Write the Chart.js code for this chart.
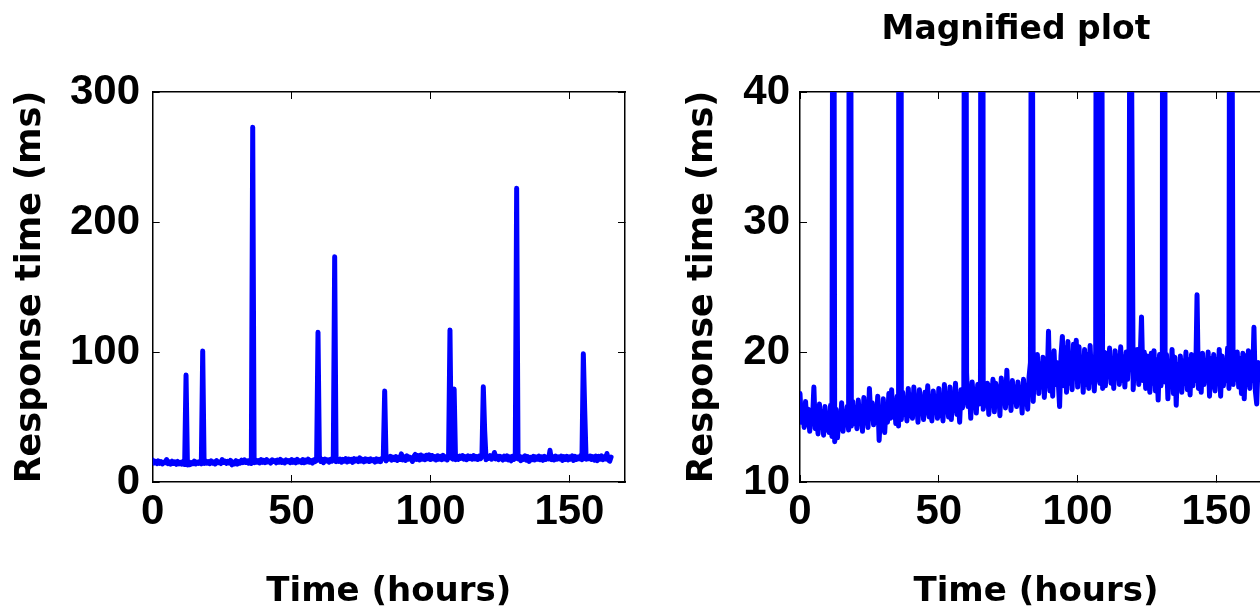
<!DOCTYPE html>
<html>
<head>
<meta charset="utf-8">
<script src="https://cdn.jsdelivr.net/npm/chart.js@4.4.1/dist/chart.umd.min.js"></script>
<style>
  html, body { margin: 0; padding: 0; background: #fff; overflow: hidden; }
  #page { position: relative; width: 1260px; height: 607px; overflow: hidden; }
  #full { position: absolute; left: 0; top: 0; }
  #zoomed { position: absolute; left: 650px; top: 0; }
  #zoomTitle {
    position: absolute; left: 866px; top: 8px; width: 300px;
    text-align: center; font: bold 33px/40px "DejaVu Sans", sans-serif; color: #000;
  }
</style>
</head>
<body>
<div id="page">
  <canvas id="full" width="650" height="607"></canvas>
  <canvas id="zoomed" width="650" height="607"></canvas>
  <div id="zoomTitle">Magnified plot</div>
</div>
<script>
// response time samples, one every half hour
const stepHours = 0.5;
const responseMs = [
  16.8, 14.6, 15.9, 14.2, 16.2, 14.4, 15.6, 13.9, 15.2, 14.8, 17.3, 14.1, 15.5, 13.7, 16.0, 14.3, 15.4, 13.6, 15.8, 14.0,
  15.1, 13.8, 15.9, 13.5, 82.3, 13.1, 15.6, 13.4, 14.9, 14.2, 16.1, 13.9, 15.3, 14.4, 15.8, 14.0, 100.8, 14.3, 16.2, 14.5,
  15.7, 14.1, 16.3, 14.6, 15.4, 13.9, 16.5, 14.8, 15.2, 14.2, 17.2, 15.0, 16.1, 14.4, 15.8, 14.7, 16.6, 13.2, 15.3, 14.0,
  16.4, 13.8, 15.7, 14.6, 16.8, 14.9, 17.1, 15.0, 16.2, 14.5, 16.6, 14.3, 272.8, 14.8, 16.9, 15.2, 16.4, 14.7, 17.2, 15.1,
  16.7, 14.9, 17.3, 15.4, 16.1, 14.6, 17.1, 15.8, 16.4, 14.8, 16.9, 15.3, 17.4, 15.0, 16.2, 14.7, 17.0, 15.6, 16.5, 14.9,
  17.2, 15.1, 16.6, 14.7, 17.5, 15.4, 16.3, 15.0, 17.3, 14.8, 16.8, 15.5, 17.6, 15.2, 16.4, 14.6, 17.1, 15.7, 16.5, 115.1,
  18.4, 15.8, 17.3, 14.9, 17.7, 16.2, 17.0, 15.3, 17.5, 16.0, 17.8, 173.3, 15.6, 17.2, 15.9, 17.6, 15.2, 17.4, 16.1, 17.9,
  15.4, 17.6, 16.0, 17.3, 15.1, 18.0, 16.3, 17.5, 15.7, 18.6, 16.1, 17.4, 15.5, 17.8, 16.2, 17.3, 15.8, 17.7, 16.4, 17.2,
  15.3, 17.9, 16.0, 17.4, 15.6, 18.1, 19.2, 70.0, 16.2, 19.4, 17.6, 19.8, 16.8, 19.1, 17.3, 19.6, 16.5, 18.9, 17.4, 21.6,
  17.0, 19.5, 16.6, 20.1, 17.5, 19.2, 17.8, 15.8, 19.7, 21.2, 17.4, 20.3, 16.9, 20.8, 17.6, 19.9, 17.1, 20.6, 18.0, 20.9,
  17.3, 20.4, 17.8, 19.6, 16.9, 20.2, 17.5, 19.8, 17.2, 20.5, 17.7, 19.4, 17.0, 20.1, 116.9, 18.4, 17.6, 71.5, 17.2, 20.0,
  17.4, 19.9, 18.1, 20.3, 17.6, 19.5, 17.2, 20.1, 18.0, 19.7, 17.5, 20.4, 17.8, 19.6, 17.3, 20.0, 17.9, 19.8, 73.3, 39.0,
  17.1, 19.6, 18.2, 20.2, 17.5, 19.3, 22.7, 17.8, 20.0, 17.2, 19.7, 18.3, 16.9, 19.9, 17.6, 20.1, 17.0, 19.4, 16.3, 19.8,
  17.4, 19.5, 225.9, 17.7, 19.8, 16.4, 19.2, 17.5, 20.2, 16.8, 19.6, 15.9, 19.0, 17.3, 19.7, 16.9, 19.3, 17.6, 20.0, 17.1,
  19.4, 16.7, 19.8, 17.4, 19.1, 17.8, 24.4, 17.2, 19.6, 16.9, 19.9, 17.5, 19.3, 17.8, 20.0, 16.6, 19.5, 17.3, 19.8, 17.0,
  19.4, 17.6, 20.2, 16.6, 19.7, 17.4, 19.1, 17.8, 20.3, 17.2, 98.7, 55.0, 17.5, 19.6, 17.9, 20.0, 17.3, 19.5, 16.8, 19.9,
  16.4, 19.7, 17.5, 20.1, 17.2, 19.4, 17.8, 21.9, 17.0, 16.0, 19.2
];

const hourTicks = [0, 50, 100, 150];
const fullMsTicks = [0, 100, 200, 300];
const zoomMsTicks = [10, 20, 30, 40];

const points = responseMs.map((v, i) => ({ x: i * stepHours, y: v }));

const tickFont = { family: 'Liberation Sans', weight: 'bold', size: 42 };
const yTitleFont = { family: 'DejaVu Sans', weight: 'bold', size: 35 };
const xTitleFont = { family: 'DejaVu Sans', weight: 'bold', size: 34 };
const tickIn = -7; // negative length puts tick marks inside the box

function fixedTicks(values) {
  return scale => { scale.ticks = values.map(v => ({ value: v })); };
}

function axis(extra) {
  return Object.assign({
    type: 'linear',
    grid: { drawOnChartArea: false, tickLength: tickIn, color: '#000', lineWidth: 1 },
    border: { display: true, color: '#000', width: 1.5 },
  }, extra);
}

function makePanel(id, opts) {
  return new Chart(document.getElementById(id), {
    type: 'line',
    data: {
      datasets: [{
        data: points,
        borderColor: '#0000ff',
        borderWidth: 5,
        borderJoinStyle: 'round',
        borderCapStyle: 'round',
        pointRadius: 0,
        tension: 0,
        clip: 0
      }]
    },
    options: {
      responsive: false,
      animation: false,
      events: [],
      parsing: false,
      layout: { padding: { left: 0, right: opts.rightPad, top: 92, bottom: 0 } },
      plugins: { legend: { display: false }, tooltip: { enabled: false } },
      scales: {
        x: axis({
          position: 'bottom', min: 0, max: 170,
          afterBuildTicks: fixedTicks(hourTicks),
          afterFit: s => { s.height = 125; },
          ticks: { font: tickFont, color: '#000', padding: 11.8, maxRotation: 0, autoSkip: false },
          title: { display: true, text: 'Time (hours)', font: xTitleFont, color: '#000', padding: { top: 0, bottom: -6 } }
        }),
        x2: axis({
          position: 'top', min: 0, max: 170,
          afterBuildTicks: fixedTicks(hourTicks),
          afterFit: s => { s.height = 0; },
          ticks: { display: false }
        }),
        y: axis({
          position: 'left', min: opts.yMin, max: opts.yMax,
          afterBuildTicks: fixedTicks(opts.yTicks),
          afterFit: s => { s.width = opts.yWidth; },
          ticks: { font: tickFont, color: '#000', padding: opts.yTickPad, autoSkip: false },
          title: { display: true, text: 'Response time (ms)', font: yTitleFont, color: '#000', padding: { top: opts.yTitlePad, bottom: 0 } }
        }),
        y2: axis({
          position: 'right', min: opts.yMin, max: opts.yMax,
          afterBuildTicks: fixedTicks(opts.yTicks),
          afterFit: s => { s.width = 0; },
          ticks: { display: false }
        })
      }
    }
  });
}

makePanel('full', { yMin: 0, yMax: 300, yTicks: fullMsTicks, yWidth: 152.7, rightPad: 25, yTickPad: 19.7, yTitlePad: 10 });
makePanel('zoomed', { yMin: 10, yMax: 40, yTicks: zoomMsTicks, yWidth: 150, rightPad: 28, yTickPad: 17, yTitlePad: 32 });
</script>
</body>
</html>
